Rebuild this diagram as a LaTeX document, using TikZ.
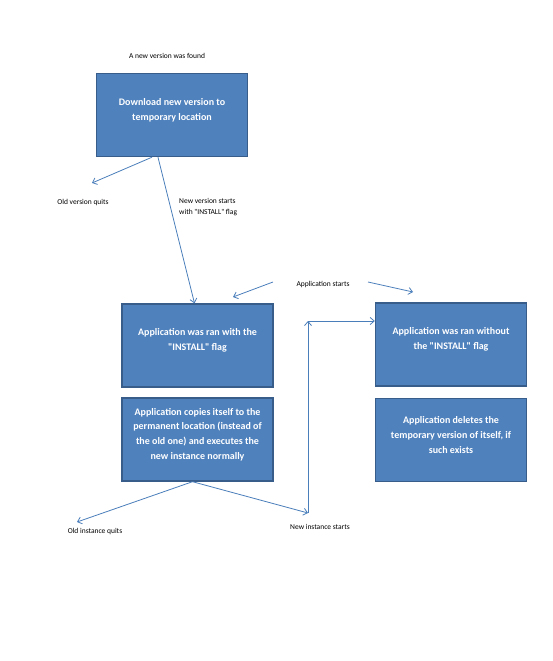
\documentclass[tikz,border=0pt]{standalone}
\usepackage{fontspec}
\setmainfont{Carlito}
\usetikzlibrary{arrows.meta}
\definecolor{boxfill}{HTML}{4F81BD}
\definecolor{boxline}{HTML}{385D8A}
\definecolor{arrowcol}{HTML}{4A7EBB}
\newcommand{\qt}{\textquotedbl}
\begin{document}
\begin{tikzpicture}
  [x=1pt, y=-1pt,
   stepbox/.style={rectangle, fill=boxfill, draw=boxline, line width=1.4pt,
     minimum width=151pt, minimum height=83pt, inner sep=0pt},
   boxtext/.style={text=white, align=center, inner sep=0pt, yshift=5pt,
     font=\fontsize{10}{14.7}\selectfont\bfseries},
   note/.style={font=\fontsize{7.5}{10.5}\selectfont, inner sep=0pt},
   flow/.style={draw=arrowcol, line width=0.8pt, -{Straight Barb[length=4pt,width=7pt]}}]

  \useasboundingbox[fill=white] (0,0) rectangle (553,661);

  % Cajas
  \node[stepbox, label={[boxtext]center:Download new version to\\temporary location}] (b1) at (172,115) {};
  \node[stepbox, label={[boxtext]center:Application was ran with the\\\qt INSTALL\qt{} flag}] (b2) at (197.5,345.5) {};
  \node[stepbox, label={[boxtext]center:Application copies itself to the\\permanent location (instead of\\the old one) and executes the\\new instance normally}] (b3) at (197.5,439.5) {};
  \node[stepbox, label={[boxtext]center:Application was ran without\\the \qt INSTALL\qt{} flag}] (b4) at (451,344.5) {};
  \node[stepbox, label={[boxtext]center:Application deletes the\\temporary version of itself, if\\such exists}] (b5) at (451,440) {};

  % Etiquetas
  \node[note] (found) at (167,56) {A new version was found};
  \node[note] (oldver) at (83,202) {Old version quits};
  \node[note, anchor=west, align=left] (newver) at (179,207) {New version starts\\with \qt INSTALL\qt{} flag};
  \node[note] (starts) at (323,284) {Application starts};
  \node[note] (oldinst) at (95,531) {Old instance quits};
  \node[note] (newinst) at (320,527) {New instance starts};

  % Puntos libres
  \coordinate (quit1) at (92,183);
  \coordinate (sl) at (273,282);
  \coordinate (el) at (233,297);
  \coordinate (sr) at (368,282);
  \coordinate (er) at (413,292);
  \coordinate (quit2) at (77,522);
  \coordinate (up) at (308,513);
  \coordinate (corner) at (308,321);

  % Flechas
  \draw[flow] ([xshift=-20pt]b1.south) -- (quit1);
  \draw[flow] ([xshift=-14pt]b1.south) -- ([xshift=-3pt]b2.north);
  \foreach \from/\to in {sl/el, sr/er, up/corner}
    \draw[flow] (\from) -- (\to);
  \draw[flow] ([xshift=-5pt]b3.south) -- (quit2);
  \draw[flow] ([xshift=-5pt]b3.south) -- (up);
  \draw[flow] (corner) -- (corner -| b4.west);
\end{tikzpicture}
\end{document}
